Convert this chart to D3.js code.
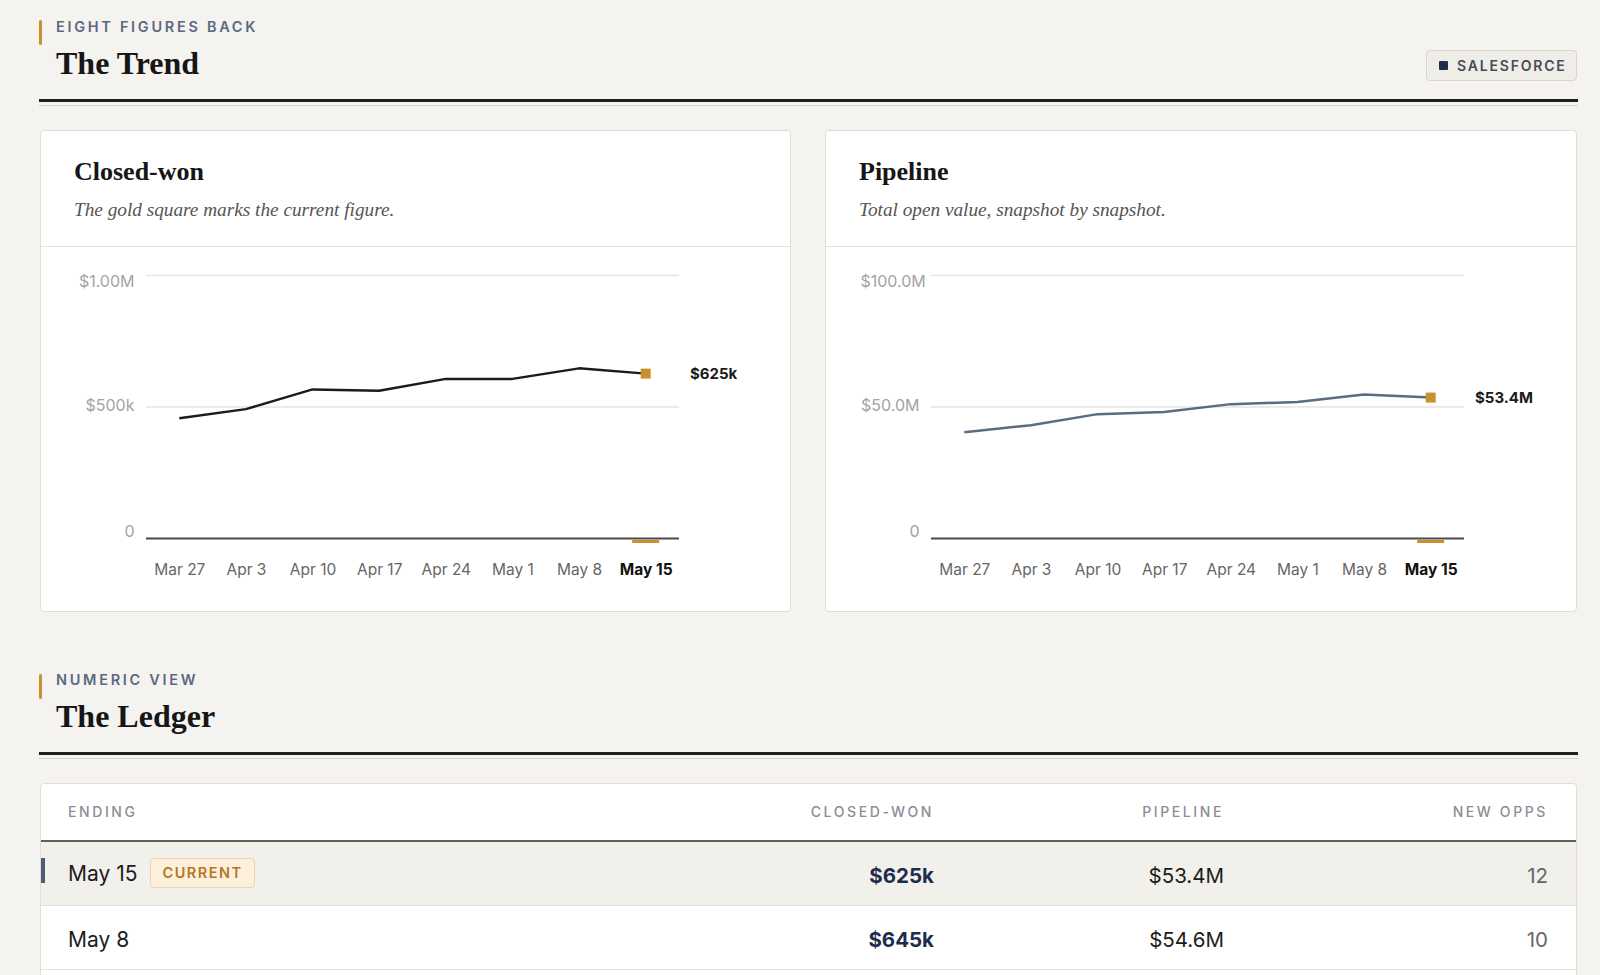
<!DOCTYPE html>
<html>
<head>
<meta charset="utf-8">
<script src="https://cdn.jsdelivr.net/npm/d3@7"></script>
<style>
body{margin:0;background:#f5f3ef;width:1600px;height:975px;overflow:hidden;position:relative;font-family:Inter,sans-serif;}
.goldbar{position:absolute;left:39px;width:3px;height:25px;background:#c9912c;border-radius:2px}
.eyebrow{position:absolute;left:56px;font-weight:600;font-size:14.5px;line-height:14px;letter-spacing:2.7px;color:#5a6a82}
.h2{position:absolute;left:56px;font-family:"Liberation Serif",serif;font-weight:600;font-size:32px;line-height:32px;color:#161616}
.rule{position:absolute;left:39px;width:1539px;height:3px;background:#1e1e1e}
.rule2{position:absolute;left:39px;width:1539px;height:1px;background:#d8d4cc}
.badge{position:absolute;left:1426px;top:50px;width:151px;height:31px;box-sizing:border-box;border:1px solid #d9d5cd;background:#efede8;border-radius:4px;font-weight:600;font-size:14px;letter-spacing:1.8px;color:#474c56;line-height:29px}
.badge i{position:absolute;left:12px;top:10px;width:9px;height:9px;background:#1f2d4a;border-radius:1px}
.badge span{position:absolute;left:30px}
.card{position:absolute;background:#fff;border:1px solid #e2ded6;border-radius:4px;box-sizing:border-box;overflow:hidden}
.card .head{height:115px;border-bottom:1px solid #e6e2da;position:relative}
.card .title{position:absolute;left:33px;top:28px;font-family:"Liberation Serif",serif;font-weight:600;font-size:26px;line-height:26px;color:#161616}
.card .sub{position:absolute;left:33px;top:69px;font-family:"Liberation Serif",serif;font-style:italic;font-size:19.25px;line-height:20px;color:#555}
svg text{font-family:Inter,sans-serif}
table{border-collapse:collapse;table-layout:fixed;width:1535px}
th{height:56px;padding:0 28px;font-weight:500;font-size:14px;letter-spacing:2.6px;color:#8a8e95;border-bottom:2px solid #5e5e5e;text-align:right}
th:first-child,td:first-child{text-align:left;padding-left:27px}
td{height:63px;padding:0 28px;font-size:20.5px;color:#1c1c1c;text-align:right;border-bottom:1px solid #e6e2da;position:relative}
td:first-child{font-size:21px}
td .v{position:relative;top:2px}
tr.cur td{background:#f2f0eb}
td .mark{position:absolute;left:0;top:16px;width:3.5px;height:25px;background:#4d5d75}
td .tag{display:inline-block;margin-left:13px;padding:0 11px;height:28px;line-height:28px;font-weight:600;font-size:14.5px;letter-spacing:1.5px;color:#b5771d;background:#fcf0dc;border:1px solid #eed4a6;border-radius:4px;vertical-align:middle;position:relative;top:-2px}
td.won{font-weight:700;color:#1f2d4d}
td.opps{color:#666}
</style>
</head>
<body>
<div class="goldbar" style="top:20px"></div>
<div class="eyebrow" style="top:19.5px">EIGHT FIGURES BACK</div>
<div class="h2" style="top:46.5px">The Trend</div>
<div class="badge"><i></i><span>SALESFORCE</span></div>
<div class="rule" style="top:98.5px"></div>
<div class="rule2" style="top:104.5px"></div>

<div class="card" id="card-won" style="left:40px;top:130px;width:751px;height:482px">
  <div class="head"><div class="title">Closed-won</div><div class="sub">The gold square marks the current figure.</div></div>
</div>
<div class="card" id="card-pipe" style="left:825px;top:130px;width:752px;height:482px">
  <div class="head"><div class="title">Pipeline</div><div class="sub">Total open value, snapshot by snapshot.</div></div>
</div>

<div class="goldbar" style="top:673.5px"></div>
<div class="eyebrow" style="top:672.5px">NUMERIC VIEW</div>
<div class="h2" style="top:699.5px">The Ledger</div>
<div class="rule" style="top:751.5px"></div>
<div class="rule2" style="top:757.5px"></div>

<div class="card" id="ledger" style="left:40px;top:782.5px;width:1537px;height:400px"></div>

<script>
// weekly snapshots
var weeks = ["Mar 27", "Apr 3", "Apr 10", "Apr 17", "Apr 24", "May 1", "May 8", "May 15"];
var closedWon = [455000, 490000, 565000, 560000, 605000, 605000, 645000, 625000];
var pipeline = [40.2e6, 42.9e6, 47.1e6, 47.9e6, 50.9e6, 51.7e6, 54.6e6, 53.4e6];

var wonTicks = [0, 500000, 1000000];
var wonTickLabels = ["0", "$500k", "$1.00M"];
var pipeTicks = [0, 50e6, 100e6];
var pipeTickLabels = ["0", "$50.0M", "$100.0M"];

// ledger rows (newest first)
var ledgerWeeks = ["May 15", "May 8"];
var ledgerNewOpps = [12, 10];

var gold = "#c9912c";

function fmtK(v) { return "$" + Math.round(v / 1000) + "k"; }
function fmtM(v) { return "$" + (v / 1e6).toFixed(1) + "M"; }

function drawChart(id, values, ticks, tickLabels, lineColor, fmt) {
	var W = +d3.select(id).style("width").replace("px", "") - 2;
	var H = 364;
	var m = {l: 105, r: W - 638, t: 28, b: 73};
	var labelBox = 59; // label slot width left of the grid

	var svg = d3.select(id).append("svg")
		.attr("width", W)
		.attr("height", H)
		.style("display", "block");

	var x = d3.scalePoint()
		.domain(weeks)
		.range([m.l, W - m.r])
		.padding(0.5);

	var y = d3.scaleLinear()
		.domain([0, ticks[ticks.length - 1]])
		.range([H - m.b, m.t]);

	var yAxis = svg.append("g")
		.attr("transform", "translate(" + m.l + ",0)")
		.call(d3.axisLeft(y)
			.tickValues(ticks)
			.tickFormat((d, i) => tickLabels[i])
			.tickSize(-(W - m.l - m.r))
			.tickPadding(11.5));
	yAxis.select(".domain").remove();
	yAxis.selectAll("line")
		.attr("stroke", d => d == 0 ? "#4a4a4a" : "#e8e5df")
		.attr("stroke-width", d => d == 0 ? 2 : 1.5);
	yAxis.selectAll("text")
		.attr("fill", "#a3a3a3")
		.attr("font-size", 16)
		.attr("dy", "0.35em")
		.attr("y", (d, i) => i == 0 ? -7.5 : (i == ticks.length - 1 ? 6 : -1.5))
		.each(function() {
			// wide labels overflow to the right of their slot
			var len = this.getComputedTextLength();
			if (len > labelBox) {
				d3.select(this).attr("text-anchor", "start").attr("x", -11.5 - labelBox);
			}
		});

	var xAxis = svg.append("g")
		.attr("transform", "translate(0," + (H - m.b) + ")")
		.call(d3.axisBottom(x).tickSize(0));
	xAxis.select(".domain").remove();
	xAxis.selectAll("text")
		.attr("y", 32)
		.attr("dy", "0.35em")
		.attr("font-size", 15.5)
		.attr("fill", (d, i) => i == weeks.length - 1 ? "#111" : "#666")
		.attr("font-weight", (d, i) => i == weeks.length - 1 ? 700 : 400);

	var line = d3.line()
		.x((d, i) => x(weeks[i]))
		.y(d => y(d));

	svg.append("path")
		.datum(values)
		.attr("d", line)
		.attr("fill", "none")
		.attr("stroke", lineColor)
		.attr("stroke-width", 2.5)
		.attr("stroke-linejoin", "round");

	var last = values.length - 1;
	var lx = x(weeks[last]);
	var ly = y(values[last]);

	svg.append("rect")
		.attr("x", lx - 5)
		.attr("y", ly - 5)
		.attr("width", 10)
		.attr("height", 10)
		.attr("fill", gold);

	svg.append("text")
		.attr("x", W - m.r + 11)
		.attr("y", ly)
		.attr("dy", "0.35em")
		.attr("font-size", 15)
		.attr("font-weight", 700)
		.attr("fill", "#1a1a1a")
		.text(fmt(values[last]));

	svg.append("rect")
		.attr("x", lx - 13.5)
		.attr("y", H - m.b + 2)
		.attr("width", 27)
		.attr("height", 3)
		.attr("fill", gold);
}

drawChart("#card-won", closedWon, wonTicks, wonTickLabels, "#1b1b1b", fmtK);
drawChart("#card-pipe", pipeline, pipeTicks, pipeTickLabels, "#5b6b82", fmtM);

// ledger table
var table = d3.select("#ledger").append("table");
var colW = [631, 290, 290, 324];
table.append("colgroup").selectAll("col").data(colW).join("col").style("width", d => d + "px");
table.append("thead").append("tr")
	.selectAll("th")
	.data(["ENDING", "CLOSED-WON", "PIPELINE", "NEW OPPS"])
	.join("th")
	.text(d => d);

var rows = table.append("tbody").selectAll("tr")
	.data(ledgerWeeks)
	.join("tr")
	.attr("class", (d, i) => i == 0 ? "cur" : null);

rows.each(function(wk, i) {
	var r = d3.select(this);
	var k = weeks.indexOf(wk);
	var c0 = r.append("td");
	if (i == 0) c0.append("span").attr("class", "mark");
	var s = c0.append("span").attr("class", "v");
	s.append("span").text(wk);
	if (i == 0) s.append("span").attr("class", "tag").text("CURRENT");
	r.append("td").attr("class", "won").append("span").attr("class", "v").text(fmtK(closedWon[k]));
	r.append("td").append("span").attr("class", "v").text(fmtM(pipeline[k]));
	r.append("td").attr("class", "opps").append("span").attr("class", "v").text(ledgerNewOpps[i]);
});
</script>
</body>
</html>
